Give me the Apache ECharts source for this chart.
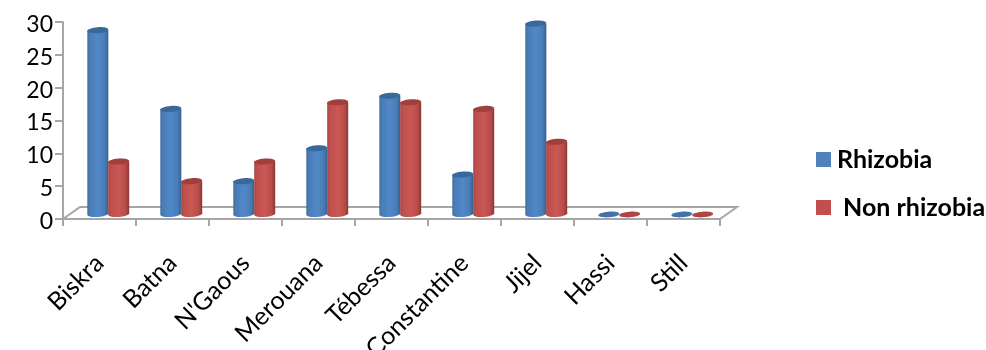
<!DOCTYPE html>
<html>
<head>
<meta charset="utf-8">
<style>html,body{margin:0;padding:0;background:#fff}#chart{width:986px;height:350px}</style>
<script src="https://cdn.jsdelivr.net/npm/echarts@6/dist/echarts.min.js"></script>
</head>
<body>
<div id="chart"></div>
<script>
const sites = ["Biskra", "Batna", "N'Gaous", "Merouana", "Tébessa", "Constantine", "Jijel", "Hassi", "Still"];
const rhizobia = [28, 16, 5, 10, 18, 6, 29, 0, 0];
const nonRhizobia = [8, 5, 8, 17, 17, 16, 11, 0, 0];
const yTicks = [0, 30, 5];

const AXIS_GREY = '#a6a6a6';
const FONT = 'Lato, "Open Sans", sans-serif';

// Horizontal shading that gives each bar its rounded look
function bodyShade(stops) {
  return {
    type: 'linear', x: 0, y: 0, x2: 1, y2: 0,
    colorStops: stops.map((c, i) => ({ offset: [0, 0.12, 0.5, 0.82, 1][i], color: c }))
  };
}
const palette = {
  blue: { key: '#4f81bd', top: '#38689c', flat: '#4272a8', body: bodyShade(['#3f6d9f', '#4a7cb6', '#5089c8', '#4a7cb7', '#35618f']) },
  red: { key: '#c0504d', top: '#a13f3d', flat: '#b04644', body: bodyShade(['#a84644', '#bd4f4c', '#ca5855', '#b84d4a', '#8b3735']) }
};

// Draws one cylinder; the slot offset places it beside its neighbour inside the band
function cylinder(shades, slot) {
  return function (params, api) {
    const band = api.size([1, 0])[0];
    const value = api.value(1);
    const base = api.coord([api.value(0), 0]);
    const head = api.coord([api.value(0), value]);
    const lift = 5;
    const cx = base[0] + slot * band;
    const rx = 0.144 * band;
    const ry = 3;
    const tilt = 0.07;
    const yBase = base[1] - lift;
    const yHead = head[1] - lift;
    const ellipse = (cy, fill, radiusY) => ({
      type: 'ellipse',
      shape: { cx, cy, rx, ry: radiusY },
      rotation: tilt, originX: cx, originY: cy,
      style: { fill }
    });
    if (value === 0) {
      return { type: 'group', children: [ellipse(yBase + 0.5, shades.flat, 2.8)] };
    }
    return {
      type: 'group',
      children: [
        ellipse(yBase, shades.body, ry),
        { type: 'rect', shape: { x: cx - rx, y: yHead, width: 2 * rx, height: yBase - yHead }, style: { fill: shades.body } },
        ellipse(yHead, shades.top, ry)
      ]
    };
  };
}

// Open floor of the plot: back edge and the two slanted sides
function floor(params, api) {
  const band = api.size([1, 0])[0];
  const origin = api.coord([0, 0]);
  const x0 = origin[0] - band / 2;
  const x1 = x0 + sites.length * band;
  const y = origin[1];
  const depthX = 17, depthY = 12;
  return {
    type: 'polyline',
    shape: { points: [[x0, y], [x0 + depthX, y - depthY], [x1 + depthX, y - depthY], [x1, y]] },
    style: { fill: null, stroke: AXIS_GREY, lineWidth: 2 }
  };
}

const chart = echarts.init(document.getElementById('chart'), null, { renderer: 'canvas' });
chart.setOption({
  animation: false,
  backgroundColor: '#fff',
  grid: { left: 63, right: 266, top: 22, height: 197, containLabel: false, outerBoundsMode: 'none' },
  legend: {
    orient: 'vertical',
    left: 811, top: 142,
    itemWidth: 15, itemHeight: 15, itemGap: 23,
    icon: 'rect',
    data: ['Rhizobia', ' Non rhizobia'],
    textStyle: { fontFamily: FONT, fontWeight: 'bold', fontSize: 25, color: '#000', padding: [0, 0, 0, 1] }
  },
  xAxis: {
    type: 'category',
    data: sites,
    boundaryGap: true,
    axisLine: { show: true, lineStyle: { color: AXIS_GREY, width: 2 } },
    axisTick: { show: true, alignWithLabel: false, length: 7, lineStyle: { color: AXIS_GREY, width: 2 } },
    axisLabel: { rotate: 45, interval: 0, margin: 40, fontFamily: FONT, fontSize: 25, color: '#000' },
    splitLine: { show: false }
  },
  yAxis: {
    type: 'value',
    min: yTicks[0], max: yTicks[1], interval: yTicks[2],
    axisLine: { show: true, lineStyle: { color: AXIS_GREY, width: 2 } },
    axisTick: { show: true, length: 8, lineStyle: { color: AXIS_GREY, width: 2 } },
    axisLabel: { margin: 10, verticalAlign: 'top', lineHeight: 5, fontFamily: FONT, fontSize: 23, color: '#000' },
    splitLine: { show: false }
  },
  series: [
    {
      name: 'floor', type: 'custom', silent: true, z: 1,
      renderItem: floor, data: [[0, 0]], encode: { x: 0, y: 1 }
    },
    {
      name: 'Rhizobia', type: 'custom', z: 2,
      itemStyle: { color: palette.blue.key },
      renderItem: cylinder(palette.blue, -0.023),
      data: rhizobia.map((v, i) => [i, v]), encode: { x: 0, y: 1 }
    },
    {
      name: ' Non rhizobia', type: 'custom', z: 3,
      itemStyle: { color: palette.red.key },
      renderItem: cylinder(palette.red, 0.263),
      data: nonRhizobia.map((v, i) => [i, v]), encode: { x: 0, y: 1 }
    }
  ]
});
</script>
</body>
</html>
